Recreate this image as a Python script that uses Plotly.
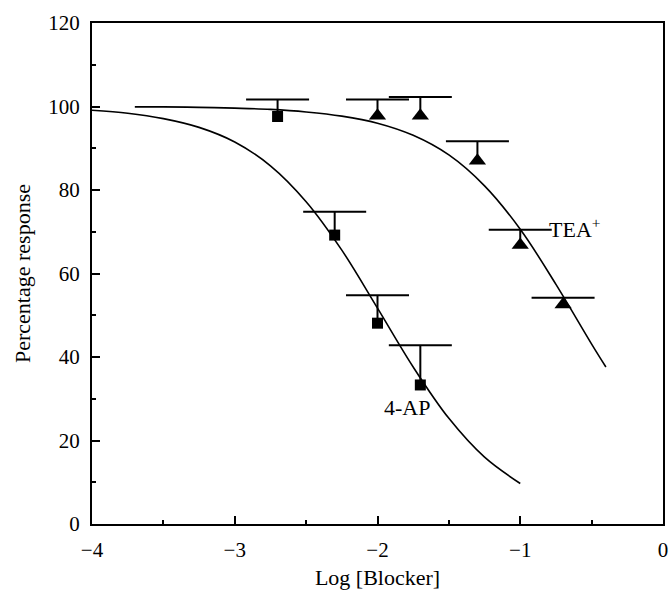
import plotly.graph_objects as go

# Data
ap_x = [-2.7, -2.3, -2.0, -1.7]
ap_y = [97.6, 69.2, 48.1, 33.3]
ap_top = [101.7, 74.8, 54.8, 42.8]

tea_x = [-2.0, -1.7, -1.3, -1.0, -0.7]
tea_y = [97.8, 97.8, 87.0, 66.8, 52.6]
tea_top = [101.7, 102.3, 91.7, 70.5, 54.2]

# Fitted curves, points
ap_curve_x = [-4.0, -3.75, -3.5, -3.25, -3.0, -2.75, -2.5, -2.25, -2.0, -1.75, -1.5, -1.25, -1.0]
ap_curve_y = [99.1, 98.4, 97.1, 95.0, 91.5, 85.8, 77.2, 65.6, 51.7, 37.6, 25.3, 16.0, 9.7]

tea_curve_x = [-3.7, -3.5, -3.25, -3.0, -2.75, -2.5, -2.25, -2.0, -1.75, -1.5, -1.25, -1.0, -0.75, -0.5, -0.4]
tea_curve_y = [99.9, 99.9, 99.8, 99.6, 99.3, 98.7, 97.7, 96.0, 93.1, 88.4, 81.0, 70.6, 57.4, 43.1, 37.6]

x_ticks = [-4, -3, -2, -1, 0]
y_ticks = [0, 20, 40, 60, 80, 100, 120]

FONT = "Liberation Serif"

fig = go.Figure()

fig.add_trace(go.Scatter(x=ap_curve_x, y=ap_curve_y, mode="lines",
                         line=dict(color="black", width=1.6, shape="spline"),
                         hoverinfo="skip", showlegend=False))
fig.add_trace(go.Scatter(x=tea_curve_x, y=tea_curve_y, mode="lines",
                         line=dict(color="black", width=1.6, shape="spline"),
                         hoverinfo="skip", showlegend=False))


def add_series(xs, ys, tops, symbol, size):
    # upward stems only (no caps), drawn as error bars
    fig.add_trace(go.Scatter(
        x=xs, y=ys, mode="markers",
        marker=dict(symbol=symbol, size=size, color="black"),
        error_y=dict(type="data", symmetric=False,
                     array=[t - v for t, v in zip(tops, ys)],
                     arrayminus=[0] * len(ys),
                     color="black", thickness=2, width=0),
        showlegend=False))
    # caps at the top of each bar
    fig.add_trace(go.Scatter(
        x=xs, y=tops, mode="markers",
        marker=dict(symbol="line-ew", size=45, color="black",
                    line=dict(color="black", width=2)),
        hoverinfo="skip", showlegend=False))


add_series(ap_x, ap_y, ap_top, "square", 11)
add_series(tea_x, tea_y, tea_top, "triangle-up", 15)

fig.add_annotation(x=-1.62, y=28.0, text="4-AP", showarrow=False,
                   xanchor="right", yanchor="middle",
                   font=dict(family=FONT, size=22, color="black"))
fig.add_annotation(x=-0.81, y=71.0,
                   text="TEA<sup><span style='color:black'>+</span></sup>",
                   showarrow=False, xanchor="left", yanchor="middle",
                   font=dict(family=FONT, size=22, color="black"))

axis_common = dict(
    showgrid=False, zeroline=False, showline=True, linecolor="black",
    linewidth=2, mirror=True, ticks="inside", ticklen=8, tickwidth=2,
    tickcolor="black", tickfont=dict(family=FONT, size=21, color="black"),
)

fig.update_xaxes(
    range=[-4, 0], tickvals=x_ticks, ticktext=["\u22124", "\u22123", "\u22122", "\u22121", "0"],
    minor=dict(ticks="inside", ticklen=4, tickwidth=1.5, tickcolor="black", dtick=0.5, tick0=0),
    title=dict(text="Log [Blocker]", font=dict(family=FONT, size=22, color="black"), standoff=10),
    ticklabelstandoff=6, ticklabeloverflow="allow",
    **axis_common)
fig.update_yaxes(
    range=[0, 120], tickvals=y_ticks,
    minor=dict(ticks="inside", ticklen=4, tickwidth=1.5, tickcolor="black", dtick=10, tick0=0),
    title=dict(text="Percentage response", font=dict(family=FONT, size=22, color="black"), standoff=12),
    ticklabelstandoff=6,
    **axis_common)

fig.update_layout(
    width=670, height=590,
    margin=dict(l=92, r=2, t=23, b=63),
    paper_bgcolor="white", plot_bgcolor="white",
    font=dict(family=FONT, color="black"),
)

fig.write_html("out.html")
